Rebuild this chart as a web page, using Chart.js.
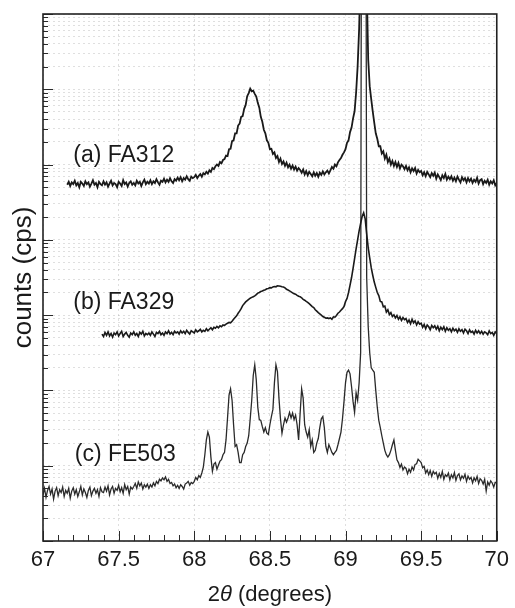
<!DOCTYPE html>
<html>
<head>
<meta charset="utf-8">
<script src="https://cdn.jsdelivr.net/npm/chart.js@4.4.0/dist/chart.umd.min.js"></script>
<style>
  html, body { margin: 0; padding: 0; background: #fff; }
  canvas { display: block; }
</style>
</head>
<body>
<canvas id="xrd" width="515" height="608"></canvas>
<script>
// 2theta range and grid step of the scans
var angleMin = 67;
var angleMax = 70;
var angleStep = 0.01;
var xTickLabels = ['67', '67.5', '68', '68.5', '69', '69.5', '70'];

// sample names, first angle of each scan
var curveNames = ['(a) FA312', '(b) FA329', '(c) FE503'];
var startA = 67.16;
var startB = 67.39;
var startC = 67.00;

// counts (curves are stacked, values as plotted)
var countsA = [
  5.4e4,5.9e4,5.2e4,5.8e4,
  5.5e4,6.1e4,5.3e4,5.7e4,5.0e4,5.9e4,5.6e4,5.2e4,6.0e4,5.5e4,
  5.8e4,5.1e4,5.6e4,6.2e4,5.4e4,5.7e4,5.0e4,5.9e4,5.5e4,5.3e4,
  6.0e4,5.4e4,5.8e4,5.1e4,5.6e4,6.1e4,5.3e4,5.7e4,5.5e4,5.0e4,
  5.9e4,5.6e4,5.2e4,6.2e4,5.5e4,5.8e4,5.1e4,5.7e4,6.0e4,5.4e4,
  5.7e4,5.3e4,6.1e4,5.6e4,5.9e4,5.2e4,5.8e4,6.3e4,5.5e4,5.9e4,
  5.6e4,6.2e4,5.5e4,6.0e4,5.7e4,6.4e4,5.8e4,5.4e4,6.1e4,5.9e4,
  6.5e4,5.8e4,6.3e4,5.9e4,6.6e4,6.0e4,5.7e4,6.4e4,6.1e4,6.7e4,
  6.2e4,6.8e4,6.0e4,6.6e4,6.3e4,7.0e4,6.4e4,6.1e4,6.9e4,6.6e4,
  6.8e4,7.3e4,6.6e4,7.1e4,7.5e4,6.9e4,7.7e4,7.4e4,8.0e4,7.6e4,
  8.4e4,8.0e4,9.0e4,8.7e4,9.5e4,1.0e5,9.6e4,1.08e5,1.04e5,1.15e5,
  1.18e5,1.32e5,1.3e5,1.6e5,1.62e5,2.05e5,2.1e5,2.6e5,2.6e5,3.3e5,
  3.5e5,4.3e5,4.4e5,5.5e5,6.2e5,8.1e5,8.9e5,1.02e6,9.4e5,9.6e5,
  8.7e5,8.0e5,6.6e5,5.7e5,4.3e5,3.7e5,2.9e5,2.6e5,2.1e5,1.95e5,
  1.6e5,1.62e5,1.38e5,1.45e5,1.22e5,1.3e5,1.08e5,1.2e5,1.02e5,1.1e5,
  9.6e4,1.06e5,9.2e4,1.0e5,8.8e4,9.7e4,8.6e4,9.4e4,8.3e4,9.0e4,
  8.5e4,7.8e4,8.6e4,7.4e4,8.2e4,7.2e4,8.0e4,7.5e4,7.0e4,7.9e4,
  7.1e4,7.7e4,6.9e4,7.8e4,7.3e4,8.1e4,7.4e4,7.9e4,8.3e4,7.6e4,
  8.4e4,9.3e4,8.8e4,1.0e5,9.5e4,1.07e5,1.15e5,1.22e5,1.35e5,1.45e5,
  1.6e5,1.95e5,2.1e5,2.7e5,3.1e5,4.1e5,5.1e5,9.0e5,2.0e6,6.3e6,
  4.0e7,3.0e8,1.0e9,3.0e8,2.5e7,2.5e6,1.1e6,7.4e5,5.1e5,3.6e5,
  2.6e5,2.2e5,1.75e5,1.75e5,1.4e5,1.5e5,1.2e5,1.35e5,1.08e5,1.2e5,
  1.0e5,1.12e5,9.6e4,1.08e5,9.3e4,1.05e5,8.9e4,1.0e5,9.5e4,8.7e4,
  9.6e4,8.4e4,9.2e4,7.9e4,8.9e4,8.2e4,9.0e4,7.6e4,8.5e4,7.9e4,
  8.2e4,7.2e4,7.9e4,7.0e4,8.0e4,7.4e4,6.8e4,7.7e4,7.1e4,7.8e4,
  6.5e4,7.4e4,6.8e4,6.2e4,7.2e4,6.6e4,7.5e4,6.3e4,6.9e4,6.4e4,
  7.0e4,6.1e4,6.7e4,6.0e4,6.9e4,6.3e4,5.8e4,6.8e4,6.2e4,6.6e4,
  5.8e4,6.6e4,6.0e4,6.5e4,5.7e4,6.3e4,5.9e4,6.7e4,5.6e4,6.2e4,
  6.4e4,5.5e4,6.1e4,5.7e4,6.3e4,5.4e4,6.0e4,5.6e4,6.2e4,5.3e4,
  5.7e4
];

var countsB = [
  560,
  520,590,540,600,530,570,510,580,550,600,
  530,570,610,520,560,590,540,510,580,550,
  600,540,570,520,590,560,610,530,570,550,
  580,540,600,560,520,590,570,610,550,580,
  540,600,570,620,560,590,550,610,580,600,
  560,620,580,610,570,630,590,560,620,600,
  580,640,600,620,650,600,630,610,660,620,
  650,680,640,690,670,710,680,720,700,740,
  730,760,780,800,790,830,880,930,980,1060,
  1130,1220,1340,1420,1500,1560,1620,1680,1720,1760,
  1800,1870,1960,2000,2060,2090,2140,2180,2240,2260,
  2320,2300,2370,2400,2380,2450,2440,2420,2380,2360,
  2300,2200,2160,2100,2040,1980,1920,1900,1830,1780,
  1760,1700,1620,1580,1520,1480,1420,1360,1300,1260,
  1180,1130,1080,1040,1000,960,940,910,920,900,
  920,880,950,940,990,1060,1100,1160,1220,1300,
  1510,1660,2000,2510,3160,4170,5620,7590,1.0e4,1.32e4,
  1.66e4,2.04e4,2.29e4,1.9e4,1.2e4,7900,5750,4270,3390,2750,
  2340,2000,1820,1520,1500,1290,1320,1100,1180,1020,
  1080,960,1010,920,990,880,950,850,930,870,
  900,800,860,770,880,790,840,740,820,760,
  780,690,750,660,740,700,640,730,680,720,
  650,710,620,690,640,700,610,680,630,660,
  600,670,620,650,590,660,610,640,580,650,
  620,570,640,590,610,560,630,580,620,570,
  610,560,600,580,550,620,570,590,540,600,
  570
];

var countsC = [
  4.1,5.0,3.8,4.7,5.3,4.2,4.9,3.6,4.6,5.1,
  4.0,4.8,4.4,5.2,3.9,4.7,4.3,5.0,3.7,4.6,
  5.1,4.2,4.8,3.9,4.5,5.3,4.1,4.9,4.4,3.8,
  4.7,5.2,4.0,4.6,5.0,4.3,4.8,3.9,5.1,4.5,
  4.4,5.2,4.6,5.4,4.1,4.9,5.3,4.3,5.0,4.7,
  5.5,4.5,5.1,4.3,5.6,4.8,5.3,4.2,5.2,4.9,
  5.3,5.8,5.0,6.1,5.4,5.9,4.9,5.6,5.2,5.7,
  5.0,5.6,5.2,5.9,5.4,6.2,5.8,6.6,6.3,6.9,
  6.5,7.1,6.2,6.6,5.8,6.0,5.4,5.7,5.1,5.5,
  5.0,5.6,5.3,4.9,5.7,5.9,6.2,5.5,6.0,5.8,
  6.2,7.0,6.5,7.4,7.0,8.0,9.6,14,22,28,
  24,13,8.4,10.5,11,9.0,10.2,11.5,12,14,
  15,22,43,87,105,74,35,18,19,15,
  11,11,14,15,18,20,25,42,74,158,
  219,138,60,41,40,33,28,32,27,26,
  35,45,56,126,219,178,79,42,27,35,
  43,38,43,51,43,50,41,47,35,22,
  50,105,79,35,28,24,30,18,22,15,
  16,20,23,32,42,45,32,18,15,19,
  17,15,14,15,16,19,23,28,42,71,
  126,174,186,166,112,71,51,93,74,126,
  316,1e14,1e16,1e14,3160,708,316,200,186,174,
  100,60,40,32,25,20,16,14,13,14,
  16,19,22,16,12,11,9.5,10.5,8.8,9.6,
  9.2,7.8,9.0,8.2,9.6,8.8,10.4,10.6,12.2,11.6,
  11,9.4,9.8,8.0,8.8,7.6,8.6,7.2,8.4,7.8,
  8.2,6.8,7.9,7.0,8.4,6.6,7.6,7.2,8.0,6.5,
  7.6,6.9,8.1,6.4,7.4,7.8,6.5,7.3,6.8,7.7,
  6.2,7.3,6.6,7.0,5.9,6.9,6.3,7.2,5.8,6.7,
  6.4,5.7,6.6,4.6,6.1,5.5,6.3,5.9,5.2,6.0,
  5.9
];

// where each sample name sits: [angle, counts]
var labelSpots = [[67.2, 1.3e5], [67.2, 1450], [67.21, 14]];

// log axis range, decades
var yMin = 1;
var yMax = 1e7;

function toPoints(start, values) {
  var pts = [];
  for (var i = 0; i < values.length; i++) {
    pts.push({ x: Math.round((start + i * angleStep) * 100) / 100, y: values[i] });
  }
  return pts;
}

function isHalf(v) {
  return Math.abs(v * 2 - Math.round(v * 2)) < 1e-6;
}

var frameAndTicks = {
  id: 'frameAndTicks',
  afterDraw: function(chart) {
    var ctx = chart.ctx;
    var ca = chart.chartArea;
    var xs = chart.scales.x;
    var ys = chart.scales.y;
    ctx.save();
    ctx.strokeStyle = '#2a2a2a';
    ctx.lineWidth = 1;
    ctx.beginPath();
    xs.ticks.forEach(function(t) {
      var px = Math.round(xs.getPixelForValue(t.value)) + 0.5;
      var len = isHalf(t.value) ? 10 : 6;
      ctx.moveTo(px, ca.bottom);
      ctx.lineTo(px, ca.bottom - len);
    });
    ys.ticks.forEach(function(t) {
      var py = Math.round(ys.getPixelForValue(t.value)) + 0.5;
      var lg = Math.log10(t.value);
      var len = Math.abs(lg - Math.round(lg)) < 1e-6 ? 10 : 5;
      ctx.moveTo(ca.left, py);
      ctx.lineTo(ca.left + len, py);
    });
    ctx.stroke();

    // frame
    ctx.lineWidth = 1.6;
    ctx.strokeStyle = '#222';
    ctx.strokeRect(ca.left, ca.top, ca.right - ca.left, ca.bottom - ca.top);

    // sample names
    ctx.fillStyle = '#1a1a1a';
    ctx.font = '23px "Liberation Sans", Arial, sans-serif';
    ctx.textAlign = 'left';
    ctx.textBaseline = 'middle';
    for (var i = 0; i < curveNames.length; i++) {
      ctx.fillText(curveNames[i], xs.getPixelForValue(labelSpots[i][0]), ys.getPixelForValue(labelSpots[i][1]));
    }

    // x title with italic theta
    var parts = [['2', ''], ['\u03b8', 'italic '], [' (degrees)', '']];
    var total = 0;
    parts.forEach(function(p) {
      ctx.font = p[1] + '22px "Liberation Sans", Arial, sans-serif';
      p.push(ctx.measureText(p[0]).width);
      total += p[2];
    });
    var tx = (ca.left + ca.right) / 2 - total / 2;
    ctx.textBaseline = 'alphabetic';
    parts.forEach(function(p) {
      ctx.font = p[1] + '22px "Liberation Sans", Arial, sans-serif';
      ctx.fillText(p[0], tx, 601);
      tx += p[2];
    });
    ctx.restore();
  }
};

var gridColor = 'rgba(150, 150, 150, 0.3)';
var lineColor = '#1a1a1a';

new Chart(document.getElementById('xrd').getContext('2d'), {
  type: 'line',
  data: {
    datasets: [
      { label: curveNames[0], data: toPoints(startA, countsA), borderColor: lineColor, borderWidth: 1.8, pointRadius: 0, tension: 0 },
      { label: curveNames[1], data: toPoints(startB, countsB), borderColor: lineColor, borderWidth: 1.6, pointRadius: 0, tension: 0 },
      { label: curveNames[2], data: toPoints(startC, countsC), borderColor: '#2a2a2a', borderWidth: 1.3, pointRadius: 0, tension: 0 }
    ]
  },
  options: {
    responsive: false,
    animation: false,
    layout: { padding: { top: 14, right: 15, left: 0, bottom: 0 } },
    plugins: {
      legend: { display: false },
      tooltip: { enabled: false }
    },
    scales: {
      x: {
        type: 'linear',
        min: angleMin,
        max: angleMax,
        afterFit: function(scale) { scale.height = 67; },
        ticks: {
          stepSize: 0.1,
          autoSkip: false,
          maxRotation: 0,
          padding: 6,
          color: '#1a1a1a',
          font: { family: '"Liberation Sans", Arial, sans-serif', size: 22 },
          callback: function(value) {
            if (!isHalf(value)) return '';
            return xTickLabels[Math.round((value - angleMin) * 2)];
          }
        },
        grid: {
          drawTicks: false,
          color: function(c) { return c.tick && isHalf(c.tick.value) ? gridColor : 'rgba(0,0,0,0)'; }
        },
        border: { display: false, dash: [2, 3] }
      },
      y: {
        type: 'logarithmic',
        min: yMin,
        max: yMax,
        afterFit: function(scale) { scale.width = 43; },
        afterBuildTicks: function(scale) {
          var ticks = [];
          for (var e = 0; e < 7; e++) {
            for (var m = 1; m < 10; m++) ticks.push({ value: m * Math.pow(10, e), major: m === 1 });
          }
          ticks.push({ value: yMax, major: true });
          scale.ticks = ticks;
        },
        ticks: { display: false, autoSkip: false },
        grid: { drawTicks: false, color: gridColor },
        border: { display: false, dash: [2, 3] },
        title: {
          display: true,
          text: 'counts (cps)',
          color: '#1a1a1a',
          font: { family: '"Liberation Sans", Arial, sans-serif', size: 26 },
          padding: { top: 8, bottom: 0 }
        }
      }
    }
  },
  plugins: [frameAndTicks]
});
</script>
</body>
</html>
